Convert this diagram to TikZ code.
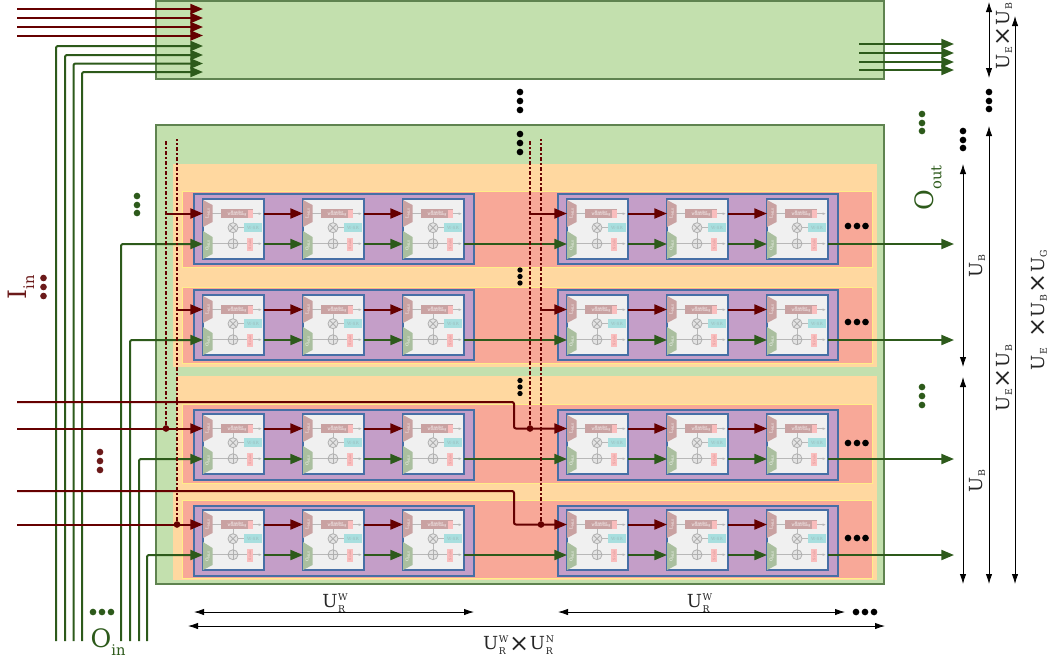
\documentclass[tikz,border=0pt]{standalone}
\usepackage{fontspec}
\setmainfont{DejaVu Serif}
\usepackage{xcolor}
\usepackage{tikz}
\usetikzlibrary{arrows.meta}
\usetikzlibrary{positioning}

\definecolor{boxgreen}{HTML}{C3E0AE}
\definecolor{edgegreen}{HTML}{5F8350}
\definecolor{boxorange}{HTML}{FFD8A0}
\definecolor{boxsalmon}{HTML}{F8A898}
\definecolor{boxpurple}{HTML}{C49EC8}
\definecolor{edgeblue}{HTML}{466FA6}
\definecolor{edgeyellow}{HTML}{FFEE88}
\definecolor{wirered}{HTML}{660000}
\definecolor{wiregreen}{HTML}{2D5A1B}
\definecolor{textred}{HTML}{6B1A1A}
\definecolor{cellgray}{HTML}{F0F0F0}
\definecolor{wiregray}{HTML}{B8B8B8}
\definecolor{opgray}{HTML}{B0B0B0}
\definecolor{opfill}{HTML}{E4E4E4}
\definecolor{trapred}{HTML}{C9A2A2}
\definecolor{trapgreen}{HTML}{AABF9F}
\definecolor{cellcyan}{HTML}{A8DFDF}
\definecolor{cellpink}{HTML}{F9BDBD}
\definecolor{cellred}{HTML}{D89090}

% one memory cell, #1 = name, (#2,#3) = top left corner
\newcommand{\bitcell}[3]{
  \node[cellbox] (#1) at (#2+30.5,#3+30) {};
  \coordinate (#1-li) at (#2,#3+14.5);
  \coordinate (#1-oi) at (#2,#3+45);
  \coordinate (#1-lo) at (#2+61,#3+14.5);
  \coordinate (#1-oo) at (#2+61,#3+45);
  \begin{scope}[shift={(#2,#3)}]
    \draw[cellwire] (9,14.7) -- (18,14.7);
    \draw[cellwire] (30,19) -- (30,40);
    \draw[cellwire] (30,28.7) -- (41,28.7);
    \draw[cellwire,-{Latex[length=2.5pt,width=2pt]}] (50,14.7) -- (59,14.7);
    \draw[cellwire,-{Latex[length=2.5pt,width=2pt]}] (9,44.7) -- (59,44.7);
    \fill[trapred] (0,1) -- (9.5,6) -- (9.5,23) -- (0,28) -- cycle;
    \fill[trapgreen] (0,32) -- (9.5,38) -- (9.5,55) -- (0,60) -- cycle;
    \node[labeltext,rotate=90] (#1-l) at (4.7,14.5) {L\textsubscript{MLS}};
    \node[labeltext,rotate=90] (#1-o) at (4.7,46) {O\textsubscript{MLS}};
    \node[tinytext,fill=trapred,minimum width=24pt,minimum height=7pt,align=center] (#1-w) at (34,14.7) {Header\\[-1.1pt]Windowing};
    \fill[cellpink] (45,10.5) rectangle (49.5,18.5);
    \node[labeltext,text=cellcyan!65!gray,fill=cellcyan,minimum width=13.5pt,minimum height=6.8pt] (#1-s) at (50,28.5) {W-SR};
    \node[tinytext,fill=cellpink,minimum width=4.5pt,minimum height=9.8pt] (#1-p) at (47,45.5) {};
    \node[tinytext,rotate=90,text=cellred] (#1-q) at (47,45.5) {Scale};
    \draw[cellop] (30,28.7) circle [radius=5];
    \draw[cellop] (26.5,25.2) -- (33.5,32.2) (26.5,32.2) -- (33.5,25.2);
    \draw[cellop] (30,44.7) circle [radius=5];
    \draw[cellop] (25,44.7) -- (35,44.7) (30,39.7) -- (30,49.7);
  \end{scope}
}
% three dots, #1 = options, #2 = list of x/y
\newcommand{\threedots}[2]{
  \foreach \px/\py in {#2}{\node[tdot,#1] (dot-\px-\py) at (\px,\py) {};}
}
\newcommand{\usub}[1]{U\kern0.5pt\raisebox{-2.2pt}{\fontsize{7}{8}\selectfont #1}}
\newcommand{\usubsup}[1]{U\kern0.5pt\rlap{\raisebox{-3.5pt}{\fontsize{7}{8}\selectfont R}}\raisebox{5.5pt}{\fontsize{7}{8}\selectfont #1}}
\newcommand{\crossx}{\kern0.5pt\raisebox{-1pt}{\fontsize{18}{18}\selectfont ×}\kern0.5pt}

\begin{document}
\begin{tikzpicture}[
  x=0.75pt, y=-0.75pt,
  cellbox/.style={draw=edgeblue, fill=cellgray, line width=0.8pt, minimum width=45.75pt, minimum height=45pt, inner sep=0pt},
  cellwire/.style={draw=wiregray, line width=0.6pt},
  cellop/.style={draw=opgray, line width=0.6pt, fill=opfill},
  tinytext/.style={inner sep=0pt, text=white, font=\fontsize{2.5}{2.8}\selectfont},
  labeltext/.style={inner sep=0pt, text=white, font=\fontsize{3.2}{3.5}\selectfont},
  wirer/.style={draw=wirered, line width=1.5pt, rounded corners=1.5pt},
  arrowr/.style={wirer, -{Triangle[length=9.5pt,width=7.5pt]}},
  wireg/.style={draw=wiregreen, line width=1.5pt, rounded corners=1.5pt},
  arrowg/.style={wireg, -{Triangle[length=9.5pt,width=7.5pt]}},
  tapline/.style={draw=wirered, line width=1.6pt, dash pattern=on 3pt off 1.5pt on 1.5pt off 1.5pt},
  dimline/.style={draw=black, line width=0.6pt, {Latex[length=7.5pt,width=4.8pt]}-{Latex[length=7.5pt,width=4.8pt]}},
  tdot/.style={circle, fill=black, inner sep=0pt, minimum size=5pt},
  dimtext/.style={inner sep=0pt, text=black!85, font=\fontsize{13.5}{15}\selectfont},
  sigtext/.style={inner sep=0pt, font=\fontsize{19}{21}\selectfont}
]
\useasboundingbox (0,0) rectangle (1059,662);

% Backgrounds
\draw[draw=edgegreen, fill=boxgreen, line width=0.8pt] (156,1) rectangle (884,79);
\draw[draw=edgegreen, fill=boxgreen, line width=0.8pt] (156,125) rectangle (884,584);
\fill[boxorange] (173,164) rectangle (877,367);
\fill[boxorange] (177,376) rectangle (877,490);
\fill[boxorange] (173,490) rectangle (877,580);
\foreach \t/\b in {191/267, 287/363, 404/483, 500/578}{
  \draw[draw=edgeyellow, fill=boxsalmon, line width=0.6pt] (182,\t) rectangle (872,\b);
}
\foreach \t in {194,290,410,506}{
  \foreach \x in {194,558}{
    \draw[draw=edgeblue, fill=boxpurple, line width=0.8pt] (\x,\t) rectangle (\x+280,\t+70);
  }
}

% Cells, row by row
\foreach \r/\y in {1/199,2/295,3/414,4/510}{
  \foreach \c/\x in {1/203,2/303,3/403,4/567,5/667,6/767}{
    \bitcell{c\r\c}{\x}{\y}
  }
}

% Free ends
\foreach \i/\y in {1/9,2/18,3/27,4/35.5}{
  \coordinate (li\i) at (17,\y);
  \coordinate (lt\i) at (203,\y);
}
\foreach \i/\x/\y in {1/56/46,2/65/55,3/73.5/63.5,4/82/72}{
  \coordinate (oi\i) at (\x,641);
  \coordinate (ot\i) at (203,\y);
}
\foreach \i/\x in {1/121,2/130,3/139,4/147}{\coordinate (ov\i) at (\x,641);}
\foreach \i/\y in {1/44,2/53,3/62,4/70}{
  \coordinate (os\i) at (859,\y);
  \coordinate (oe\i) at (954,\y);
}
\foreach \r in {1,...,4}{\coordinate (ro\r) at (954,0 |- c\r6-oo);}
\coordinate (tapa) at (166,139);
\coordinate (tapb) at (177,139);
\coordinate (tapc) at (530,139);
\coordinate (tapd) at (541,139);
\coordinate (start1) at (166,0 |- c11-li);
\coordinate (start2) at (177,0 |- c21-li);
\coordinate (start3) at (530,0 |- c14-li);
\coordinate (start4) at (541,0 |- c24-li);
\coordinate (feed3) at (17,0 |- c31-li);
\coordinate (feed4) at (17,0 |- c41-li);
\coordinate (far3) at (17,402);
\coordinate (far4) at (17,491);
\coordinate (elbow3) at (514,0 |- c34-li);
\coordinate (elbow4) at (514,0 |- c44-li);

% Tap nodes
\node[tdot,fill=wirered] (j3) at (166,0 |- c31-li) {};
\node[tdot,fill=wirered] (j4) at (177,0 |- c41-li) {};
\node[tdot,fill=wirered] (j7) at (530,0 |- c34-li) {};
\node[tdot,fill=wirered] (j8) at (541,0 |- c44-li) {};

% Input and output buses
\foreach \i in {1,...,4}{
  \draw[arrowr] (li\i) -- (lt\i);
  \draw[arrowg] (oi\i) |- (ot\i);
  \draw[arrowg] (os\i) -- (oe\i);
}
\draw[arrowg] (ov1) |- (c11-oi);
\draw[arrowg] (ov2) |- (c21-oi);
\draw[arrowg] (ov3) |- (c31-oi);
\draw[arrowg] (ov4) |- (c41-oi);

% Pointers between cells
\foreach \r in {1,...,4}{
  \draw[arrowr] (c\r1-lo) -- (c\r2-li);
  \draw[arrowr] (c\r2-lo) -- (c\r3-li);
  \draw[arrowr] (c\r4-lo) -- (c\r5-li);
  \draw[arrowr] (c\r5-lo) -- (c\r6-li);
  \draw[arrowg] (c\r1-oo) -- (c\r2-oi);
  \draw[arrowg] (c\r2-oo) -- (c\r3-oi);
  \draw[arrowg] (c\r3-oo) -- (c\r4-oi);
  \draw[arrowg] (c\r4-oo) -- (c\r5-oi);
  \draw[arrowg] (c\r5-oo) -- (c\r6-oi);
  \draw[arrowg] (c\r6-oo) -- (ro\r);
}

% Word lines
\draw[arrowr] (start1) -- (c11-li);
\draw[arrowr] (start2) -- (c21-li);
\draw[arrowr] (start3) -- (c14-li);
\draw[arrowr] (start4) -- (c24-li);
\draw[arrowr] (feed3) -- (c31-li);
\draw[arrowr] (feed4) -- (c41-li);
\draw[arrowr] (far3) -| (elbow3) -- (c34-li);
\draw[arrowr] (far4) -| (elbow4) -- (c44-li);
\draw[tapline] (j3) -- (tapa);
\draw[tapline] (j4) -- (tapb);
\draw[tapline] (j7) -- (tapc);
\draw[tapline] (j8) -- (tapd);

% Dimensions
\coordinate (w1a) at (194,612); \coordinate (w1b) at (474,612);
\coordinate (w2a) at (558,612); \coordinate (w2b) at (845,612);
\coordinate (w3a) at (188,626); \coordinate (w3b) at (885,626);
\coordinate (h1a) at (989,2);   \coordinate (h1b) at (989,78);
\coordinate (h2a) at (989,126); \coordinate (h2b) at (989,584);
\coordinate (h3a) at (1015,16); \coordinate (h3b) at (1015,584);
\coordinate (h4a) at (963,164); \coordinate (h4b) at (963,367);
\coordinate (h5a) at (963,377); \coordinate (h5b) at (963,584);
\foreach \a in {w1,w2,w3,h1,h2,h3,h4,h5}{\draw[dimline] (\a a) -- (\a b);}

% Dots
\threedots{}{520/92,520/101,520/110}
\threedots{}{520/134,520/143,520/152}
\threedots{minimum size=4pt}{520/270,520/276.5,520/283}
\threedots{minimum size=4pt}{520/380.5,520/387,520/393.5}
\threedots{}{989/92,989/101,989/109}
\threedots{}{963/131,963/140,963/148}
\threedots{}{856/612,865/612,874/612}
\foreach \y in {226,322,443,538}{\threedots{}{848/\y,857/\y,865.5/\y}}
\threedots{fill=wiregreen}{137/196,137/205,137/213}
\threedots{fill=wiregreen}{922/114,922/123,922/131}
\threedots{fill=wiregreen}{922/387,922/396,922/405}
\threedots{fill=wiregreen}{93/612,102/612,111/612}
\threedots{fill=textred}{43.5/278,43.5/287,43.5/296}
\threedots{fill=textred}{100/452,100/461,100/470}

% Labels
\node[dimtext] (wa) at (335,603) {\usubsup{W}};
\node[dimtext] (wb) at (699.5,603) {\usubsup{W}};
\node[dimtext] (wc) at (518.5,645) {\usubsup{W}\crossx\usubsup{N}};
\node[dimtext,rotate=90] (ha) at (977,266) {\usub{B}};
\node[dimtext,rotate=90] (hb) at (977,481) {\usub{B}};
\node[dimtext,rotate=90] (hc) at (1004,36) {\usub{E}\crossx\usub{B}};
\node[dimtext,rotate=90] (hd) at (1004,378) {\usub{E}\crossx\usub{B}};
\node[dimtext,rotate=90] (he) at (1039,310) {\usub{E}\kern7pt\crossx\usub{B}\crossx\usub{G}};
\node[sigtext,text=wiregreen] (oin) at (108,642) {O\raisebox{-6pt}{\fontsize{11}{12}\selectfont in}};
\node[sigtext,text=wiregreen,rotate=90] (oout) at (928,188) {O\raisebox{-6pt}{\fontsize{11}{12}\selectfont out}};
\node[sigtext,text=textred,rotate=90] (iin) at (21,287) {I\raisebox{-6pt}{\fontsize{11}{12}\selectfont in}};
\end{tikzpicture}
\end{document}
